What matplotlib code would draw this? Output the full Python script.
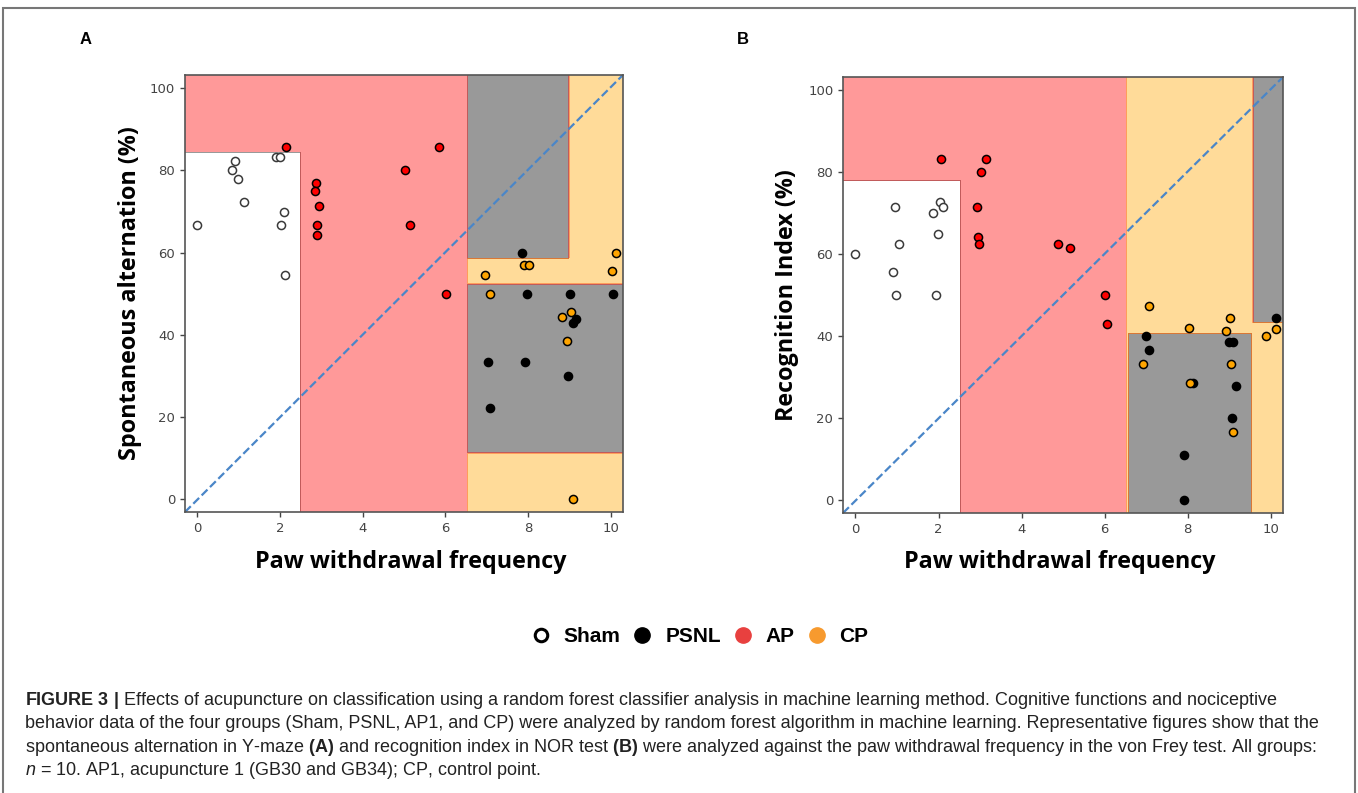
import numpy as np
import matplotlib
matplotlib.use('Agg')
import matplotlib.pyplot as plt
from matplotlib.colors import ListedColormap
from matplotlib.lines import Line2D
from matplotlib.patches import Rectangle

plt.rcParams['mathtext.fontset'] = 'custom'
plt.rcParams['mathtext.rm'] = 'Liberation Sans'
plt.rcParams['mathtext.bf'] = 'Liberation Sans:bold'
plt.rcParams['mathtext.it'] = 'Liberation Sans:italic'

groups = ['Sham', 'PSNL', 'AP', 'CP']
group_colors = ['white', 'black', 'red', 'orange']

# (A) spontaneous alternation vs paw withdrawal frequency
a_sham_x = [0.0, 0.9, 0.85, 0.98, 1.12, 1.9, 2.0, 2.1, 2.02, 2.12]
a_sham_y = [66.7, 82.4, 80.0, 77.8, 72.2, 83.3, 83.3, 70.0, 66.7, 54.5]
a_psnl_x = [7.86, 7.97, 9.02, 10.06, 9.17, 9.1, 7.03, 7.93, 8.98, 7.09]
a_psnl_y = [60.0, 50.0, 50.0, 50.0, 43.8, 42.9, 33.3, 33.3, 30.0, 22.2]
a_ap_x = [2.15, 2.87, 2.85, 2.94, 2.89, 2.9, 5.02, 5.15, 5.85, 6.02]
a_ap_y = [85.7, 76.9, 75.0, 71.4, 66.7, 64.3, 80.0, 66.7, 85.7, 50.0]
a_cp_x = [6.95, 7.09, 7.9, 8.02, 10.14, 10.03, 9.05, 8.83, 8.94, 9.1]
a_cp_y = [54.5, 50.0, 57.1, 57.1, 60.0, 55.6, 45.5, 44.4, 38.5, 0.0]

# random forest decision regions (x0, x1, y0, y1, group); AP everywhere else
a_regions = [
    (-1, 2.51, -10, 84.4, 0),
    (6.54, 11, -10, 110, 1),
    (9.0, 11, 58.6, 110, 3),
    (6.54, 11, 52.3, 58.6, 3),
    (6.54, 11, -10, 11.2, 3),
]

# (B) recognition index vs paw withdrawal frequency
b_sham_x = [0.0, 0.94, 1.05, 0.9, 0.98, 1.87, 2.04, 2.12, 1.98, 1.93]
b_sham_y = [60.0, 71.4, 62.5, 55.6, 50.0, 70.0, 72.7, 71.4, 65.0, 50.0]
b_psnl_x = [7.0, 7.08, 7.91, 7.91, 8.13, 9.0, 9.1, 9.16, 9.07, 10.14]
b_psnl_y = [40.0, 36.7, 11.1, 0.0, 28.6, 38.5, 38.5, 27.8, 20.0, 44.4]
b_ap_x = [2.06, 3.15, 3.02, 2.92, 2.95, 2.97, 4.88, 5.17, 6.01, 6.07]
b_ap_y = [83.3, 83.3, 80.0, 71.4, 64.3, 62.5, 62.5, 61.4, 50.0, 42.9]
b_cp_x = [7.07, 6.93, 8.03, 8.06, 9.02, 8.93, 9.05, 9.09, 9.9, 10.14]
b_cp_y = [47.4, 33.3, 42.1, 28.6, 44.4, 41.2, 33.3, 16.7, 40.0, 41.7]

b_regions = [
    (-1, 2.53, -10, 78.0, 0),
    (6.54, 11, -10, 110, 3),
    (6.58, 9.54, -10, 40.7, 1),
    (9.58, 11, 43.2, 110, 1),
]

caption_lines = [
    r"$\mathbf{FIGURE\ 3\ |}$ Effects of acupuncture on classification using a random forest classifier analysis in machine learning method. Cognitive functions and nociceptive",
    r"behavior data of the four groups (Sham, PSNL, AP1, and CP) were analyzed by random forest algorithm in machine learning. Representative figures show that the",
    r"spontaneous alternation in Y-maze $\mathbf{(A)}$ and recognition index in NOR test $\mathbf{(B)}$ were analyzed against the paw withdrawal frequency in the von Frey test. All groups:",
    r"$\mathit{n}$ = 10. AP1, acupuncture 1 (GB30 and GB34); CP, control point.",
]


def draw_panel(ax, xs, ys, regions, ylabel, xlab_x, ylab_x):
    gx, gy = np.meshgrid(np.arange(-0.5, 10.5, 0.01), np.arange(-5, 106, 0.1))
    cls = np.full(gx.shape, 2)
    for x0, x1, y0, y1, g in regions:
        cls[(gx >= x0) & (gx < x1) & (gy >= y0) & (gy < y1)] = g
    ax.contourf(gx, gy, cls, levels=[-0.5, 0.5, 1.5, 2.5, 3.5],
                cmap=ListedColormap(group_colors), alpha=0.4)
    for x, y, fc in zip(xs, ys, group_colors):
        ec = '#3a3a3a' if fc == 'white' else 'black'
        ax.scatter(x, y, s=34, c=fc, edgecolors=ec, linewidths=1.1, zorder=3)
    ax.plot([0, 1], [0, 1], transform=ax.transAxes, ls='--', color='#4a86c8', lw=1.6)
    ax.set_xlim(-0.3, 10.3)
    ax.set_ylim(-3.1, 103.2)
    ax.set_xticks([0, 2, 4, 6, 8, 10])
    ax.set_yticks([0, 20, 40, 60, 80, 100])
    ax.tick_params(colors='#444', labelsize=9.5, length=3.5, width=1)
    for sp in ax.spines.values():
        sp.set_color('#555')
        sp.set_linewidth(1.2)
    ax.set_xlabel('Paw withdrawal frequency', family='Open Sans', fontweight='bold', fontsize=16.8)
    ax.set_ylabel(ylabel, family='Open Sans', fontweight='bold', fontsize=16.8)
    ax.xaxis.set_label_coords(xlab_x, -0.086)
    ax.yaxis.set_label_coords(ylab_x, 0.5)


fig = plt.figure(figsize=(13.58, 7.93), dpi=100)

ax_a = fig.add_axes([0.1362, 0.3543, 0.3225, 0.5511])
draw_panel(ax_a, [a_sham_x, a_psnl_x, a_ap_x, a_cp_x], [a_sham_y, a_psnl_y, a_ap_y, a_cp_y],
           a_regions, 'Spontaneous alternation (%)', 0.515, -0.097)

ax_b = fig.add_axes([0.6208, 0.3531, 0.324, 0.5498])
draw_panel(ax_b, [b_sham_x, b_psnl_x, b_ap_x, b_cp_x], [b_sham_y, b_psnl_y, b_ap_y, b_cp_y],
           b_regions, 'Recognition Index (%)', 0.492, -0.1)

fig.text(80 / 1358, 1 - 40 / 793, 'A', family='Liberation Sans', fontweight='bold', fontsize=12, va='center')
fig.text(737 / 1358, 1 - 40 / 793, 'B', family='Liberation Sans', fontweight='bold', fontsize=12, va='center')

# legend
legend_colors = ['white', 'black', '#e8403f', '#f79a2e']
handles = []
for name, col in zip(groups, legend_colors):
    if col == 'white':
        h = Line2D([], [], ls='none', marker='o', ms=9, mfc='white', mec='black', mew=2.2)
    else:
        h = Line2D([], [], ls='none', marker='o', ms=11, mfc=col, mec=col)
    handles.append(h)
fig.legend(handles, groups, loc='center', bbox_to_anchor=(0.515, 1 - 637 / 793), ncol=4,
           frameon=False, handlelength=1.0, handletextpad=0.6, columnspacing=0.55,
           prop={'family': 'Liberation Sans', 'weight': 'bold', 'size': 15})

# caption
for i, line in enumerate(caption_lines):
    fig.text(25 / 1358, 1 - (705 + i * 23.3) / 793, line, family='Liberation Sans',
             fontsize=13.0, color='#222', va='baseline')

# page frame
fig.patches.append(Rectangle((3 / 1358, -0.02), 1352 / 1358, 1.02 - 8 / 793, transform=fig.transFigure,
                             fill=False, edgecolor='#777', lw=1.5))

fig.savefig('out.png', dpi=100)
